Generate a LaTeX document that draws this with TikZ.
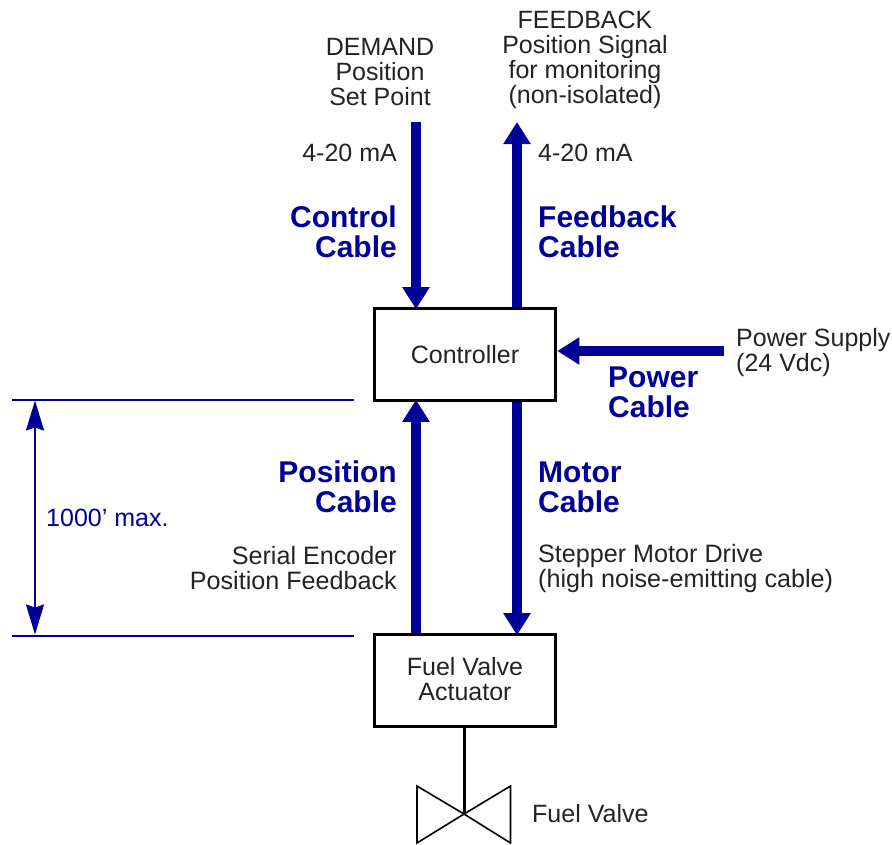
\documentclass[tikz,border=0pt]{standalone}
\usepackage{fontspec}
\setmainfont{Liberation Sans}
\usetikzlibrary{arrows.meta,calc}
\definecolor{cablecol}{RGB}{0,0,153}
\definecolor{txtcol}{RGB}{35,35,35}
\tikzset{
  x=1pt,y=-1pt,
  boxnode/.style={draw=black,line width=3.6pt,minimum width=181pt,minimum height=92pt,inner sep=0pt,align=center,font=\fontsize{25}{25}\selectfont,text=txtcol},
  cable/.style={draw=cablecol,line width=10pt,-{Triangle[length=22pt,width=26pt]}},
  cableinto/.style={cable,shorten >=-2.5pt},
  lbl/.style={inner sep=0pt,font=\fontsize{25}{25}\selectfont,text=txtcol},
  widelbl/.style={lbl,font=\fontsize{25.15}{25}\selectfont},
  cablelbl/.style={inner sep=0pt,font=\fontsize{30}{30}\selectfont\bfseries,text=cablecol},
  dimline/.style={draw=cablecol,line width=2pt},
  dimarrow/.style={draw=cablecol,line width=1.8pt,{Stealth[length=30pt,width=18pt,inset=3pt]}-{Stealth[length=30pt,width=18pt,inset=3pt]}},
  valveshape/.style={draw=black,line width=1.6pt,line join=miter},
}
\begin{document}
\begin{tikzpicture}
\useasboundingbox (0,0) rectangle (892,844);
% boxes
\node[boxnode] (ctrl) at (465,354.5) {Controller};
\node[boxnode] (act) at (465,680.5) {Fuel Valve\\Actuator\rule[-4pt]{0pt}{1pt}};
% free ends
\coordinate (demand) at (416,122);
\coordinate (fb) at (517,122);
\coordinate (psu) at (724,351);
\coordinate (vc) at (464,814);
\coordinate (dl1) at (12,399.5);
\coordinate (dl2) at (354,399.5);
\coordinate (dl3) at (12,635.5);
\coordinate (dl4) at (354,635.5);
\coordinate (dt) at (35,400.5);
\coordinate (db) at (35,634.5);
% cables
\draw[cableinto] (demand) -- (demand |- ctrl.north);
\draw[cable] (fb |- ctrl.north) -- (fb);
\draw[cable] (psu) -- (psu -| ctrl.east);
\draw[cableinto] (demand |- act.north) -- (demand |- ctrl.south);
\draw[cableinto] (fb |- ctrl.south) -- (fb |- act.north);
% valve
\draw[black,line width=3pt] (act.south -| vc) -- (vc);
\draw[valveshape] (vc) -- (417,786) -- (417,843) -- cycle;
\draw[valveshape] (vc) -- (510.5,786) -- (510.5,843) -- cycle;
% dimension
\draw[dimline] (dl1) -- (dl2);
\draw[dimline] (dl3) -- (dl4);
\draw[dimarrow] (dt) -- (db);
% labels
\node[lbl,anchor=center,align=center] (tdemand) at (380,72) {DEMAND\\Position\\Set Point};
\node[lbl,anchor=center,align=center] (tfb) at (585,59.5) {FEEDBACK\\Position Signal\\for monitoring\\(non-isolated)};
\node[lbl,anchor=east] (t420a) at (397,153) {4-20 mA};
\node[lbl,anchor=west] (t420b) at (538,153) {4-20 mA};
\node[cablelbl,anchor=east,align=right] (tctrl) at (397,231.5) {Control\\Cable};
\node[cablelbl,anchor=west,align=left] (tfbc) at (538,231.5) {Feedback\\Cable};
\node[lbl,anchor=west,align=left] (tpsu) at (736,353) {Power Supply\\(24 Vdc)};
\node[cablelbl,anchor=west,align=left] (tpow) at (608,392) {Power\\Cable};
\node[cablelbl,anchor=east,align=right] (tpos) at (397,487) {Position\\Cable};
\node[cablelbl,anchor=west,align=left] (tmot) at (538,487) {Motor\\Cable};
\node[widelbl,anchor=east,align=right] (tenc) at (397,568.5) {Serial Encoder\\Position Feedback};
\node[widelbl,anchor=west,align=left] (tstep) at (538,568.5) {Stepper Motor Drive\\(high noise-emitting cable)};
\node[lbl,anchor=west,text=cablecol] (tmax) at (46,518) {1000’ max.};
\node[lbl,anchor=west] (tvalve) at (532,814) {Fuel Valve};
\end{tikzpicture}
\end{document}
